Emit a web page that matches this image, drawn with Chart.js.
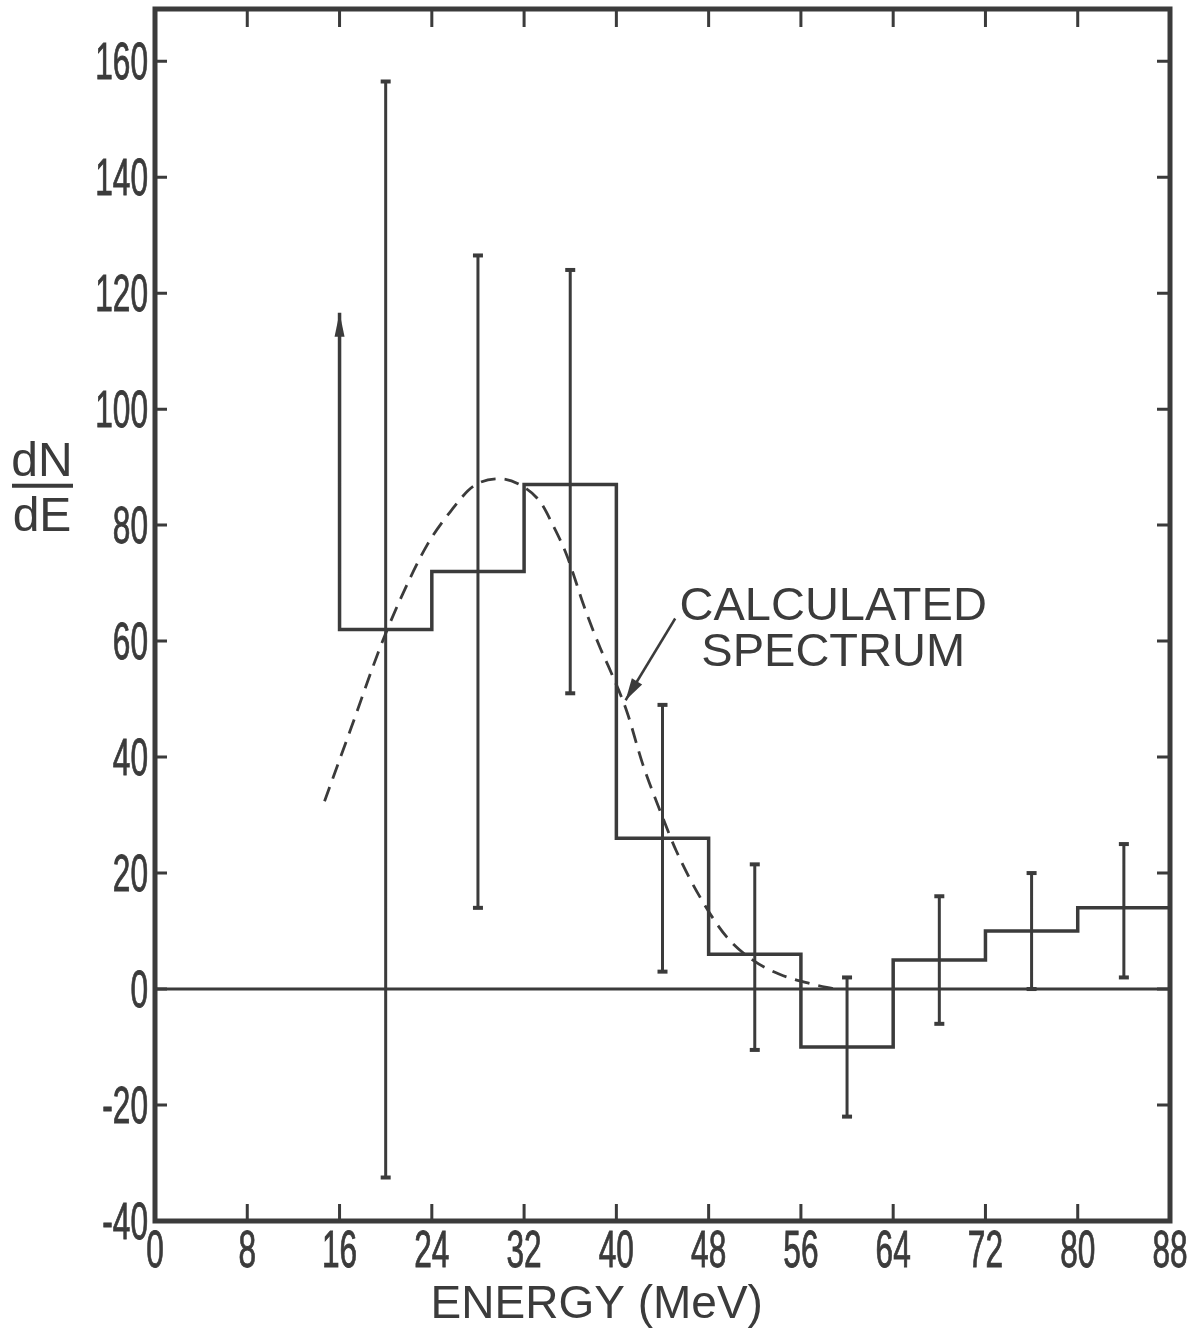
<!DOCTYPE html>
<html lang="en">
<head>
<meta charset="UTF-8">
<title>dN/dE spectrum</title>
<script src="https://cdn.jsdelivr.net/npm/chart.js"></script>
<style>
  body { margin: 0; background: #fff; }
  canvas { display: block; }
</style>
</head>
<body>
<canvas id="myChart" width="1195" height="1344"></canvas>
<script>
// measured histogram: bin edges (MeV) and dN/dE per bin
const binEdges  = [16, 24, 32, 40, 48, 56, 64, 72, 80, 88];
const binValues = [62, 72, 87, 26, 6, -10, 5, 10, 14];
const arrowTop  = 116.6; // first bin drawn as lower limit (arrow at 16 MeV)

// error bars at bin centres
const errCenters = [20, 28, 36, 44, 52, 60, 68, 76, 84];
const errLow     = [-32.5, 14, 51, 3, -10.5, -22, -6, 0, 2];
const errHigh    = [156.5, 126.5, 124, 49, 21.5, 2, 16, 20, 25];

// calculated spectrum (dashed curve)
const calcE = [14.7, 17, 19.5, 21.2, 23.6, 25.6, 27.6, 29.9, 31.7, 33.4, 34.5, 35.7, 37.2, 38.6, 39.5, 40.9, 42.3, 43.8, 45.2, 47.3, 49.6, 51.9, 54.2, 57.1, 59];
const calcN = [32.4, 45, 58.8, 66.9, 76.6, 82.3, 86.7, 88, 86.9, 84, 80, 74.8, 66, 58.8, 54.8, 47.9, 38.7, 30.7, 23.8, 15.7, 8.9, 4.9, 2.5, 0.8, 0];

const xTicks = [0, 8, 16, 24, 32, 40, 48, 56, 64, 72, 80, 88];
const yTicks = [-40, -20, 0, 20, 40, 60, 80, 100, 120, 140, 160];

const ink = '#3b3b3b';
const sans = '"Liberation Sans", Arial, sans-serif';

// build the step line
let histPts = [{x: binEdges[0], y: arrowTop}];
binValues.forEach((v, i) => {
  histPts.push({x: binEdges[i], y: v});
  histPts.push({x: binEdges[i + 1], y: v});
});

let errPts = [];
errCenters.forEach((c, i) => {
  errPts.push({x: c, y: errLow[i]});
  errPts.push({x: c, y: errHigh[i]});
  errPts.push({x: c, y: null});
});

const calcPts = calcE.map((e, i) => ({x: e, y: calcN[i]}));

function arrowHead(ctx, x0, y0, x1, y1, len, half) {
  const a = Math.atan2(y1 - y0, x1 - x0);
  ctx.beginPath();
  ctx.moveTo(x1, y1);
  ctx.lineTo(x1 - len * Math.cos(a) + half * Math.sin(a), y1 - len * Math.sin(a) - half * Math.cos(a));
  ctx.lineTo(x1 - len * Math.cos(a) - half * Math.sin(a), y1 - len * Math.sin(a) + half * Math.cos(a));
  ctx.closePath();
  ctx.fill();
}

// tall narrow numerals like the original lettering
function narrowText(ctx, txt, x, y, align) {
  ctx.save();
  ctx.translate(x, y);
  ctx.scale(0.62, 1);
  ctx.textAlign = align;
  ctx.lineWidth = 0.9;
  ctx.fillText(txt, 0, 0);
  ctx.strokeText(txt, 0, 0);
  ctx.restore();
}

const decor = {
  id: 'decor',
  afterDraw(chart) {
    const ctx = chart.ctx;
    const xs = chart.scales.x, ys = chart.scales.y;
    const a = chart.chartArea;
    ctx.save();
    ctx.strokeStyle = ink;
    ctx.fillStyle = ink;

    // frame
    ctx.lineWidth = 5;
    ctx.strokeRect(a.left, a.top, a.right - a.left, a.bottom - a.top);

    // inward tick marks
    ctx.lineWidth = 3;
    ctx.beginPath();
    xTicks.slice(1, -1).forEach(v => {
      const px = xs.getPixelForValue(v);
      ctx.moveTo(px, a.bottom); ctx.lineTo(px, a.bottom - 17);
      ctx.moveTo(px, a.top); ctx.lineTo(px, a.top + 18);
    });
    yTicks.slice(1).forEach(v => {
      const py = ys.getPixelForValue(v);
      ctx.moveTo(a.left, py); ctx.lineTo(a.left + 12, py);
      ctx.moveTo(a.right, py); ctx.lineTo(a.right - 13, py);
    });
    ctx.stroke();

    // tick labels
    ctx.font = '51px ' + sans;
    ctx.textBaseline = 'alphabetic';
    yTicks.forEach(v => {
      narrowText(ctx, String(v), a.left - 7, ys.getPixelForValue(v) + 18, 'right');
    });
    xTicks.forEach(v => {
      narrowText(ctx, String(v), xs.getPixelForValue(v), a.bottom + 46, 'center');
    });

    // arrow on the first bin
    const ax = xs.getPixelForValue(binEdges[0]);
    const ay = ys.getPixelForValue(arrowTop);
    arrowHead(ctx, ax, ay + 40, ax, ay, 24, 5);

    // annotation
    ctx.font = '47px ' + sans;
    ctx.textAlign = 'center';
    const tx = xs.getPixelForValue(58.8);
    ctx.fillText('CALCULATED', tx, ys.getPixelForValue(63.6));
    ctx.fillText('SPECTRUM', tx, ys.getPixelForValue(55.7));
    const p0x = xs.getPixelForValue(45.1), p0y = ys.getPixelForValue(63.9);
    const p1x = xs.getPixelForValue(40.8), p1y = ys.getPixelForValue(49.8);
    ctx.lineWidth = 2.5;
    ctx.beginPath();
    ctx.moveTo(p0x, p0y);
    ctx.lineTo(p1x, p1y);
    ctx.stroke();
    arrowHead(ctx, p0x, p0y, p1x, p1y, 22, 6);

    // y label as a fraction
    const fx = 42, fy = ys.getPixelForValue(86.8);
    ctx.font = '48px ' + sans;
    ctx.fillText('dN', fx, fy - 10);
    ctx.fillText('dE', fx, fy + 45);
    ctx.lineWidth = 4;
    ctx.beginPath();
    ctx.moveTo(12, fy); ctx.lineTo(73, fy);
    ctx.stroke();

    // x title
    ctx.font = '46px ' + sans;
    ctx.fillText('ENERGY (MeV)', xs.getPixelForValue(38.3), a.bottom + 97);
    ctx.restore();
  }
};

new Chart(document.getElementById('myChart'), {
  type: 'scatter',
  data: {
    datasets: [
      {
        data: [{x: 0, y: 0}, {x: 88, y: 0}],
        showLine: true, borderColor: ink, borderWidth: 3, pointRadius: 0
      },
      {
        data: histPts,
        showLine: true, borderColor: ink, borderWidth: 3.5, pointRadius: 0
      },
      {
        data: errPts,
        showLine: true, spanGaps: false, borderColor: ink, borderWidth: 3,
        pointStyle: 'line', pointRadius: 5, pointBorderWidth: 4, pointBorderColor: ink
      },
      {
        data: calcPts,
        showLine: true, borderColor: ink, borderWidth: 2.8, borderDash: [15, 9],
        cubicInterpolationMode: 'monotone', pointRadius: 0
      }
    ]
  },
  options: {
    responsive: false,
    animation: false,
    layout: { padding: { top: 8, right: 25, left: 0, bottom: 0 } },
    plugins: { legend: { display: false }, tooltip: { enabled: false } },
    scales: {
      x: {
        type: 'linear', min: 0, max: 88,
        grid: { display: false, drawTicks: false },
        border: { display: false },
        ticks: { display: false },
        afterBuildTicks: s => { s.ticks = xTicks.map(v => ({value: v})); },
        afterFit: s => { s.height = 123; s.paddingLeft = 0; s.paddingRight = 0; }
      },
      y: {
        type: 'linear', min: -40, max: 169,
        grid: { display: false, drawTicks: false },
        border: { display: false },
        ticks: { display: false },
        afterBuildTicks: s => { s.ticks = yTicks.map(v => ({value: v})); },
        afterFit: s => { s.width = 155; s.paddingTop = 0; s.paddingBottom = 0; }
      }
    }
  },
  plugins: [decor]
});
</script>
</body>
</html>
